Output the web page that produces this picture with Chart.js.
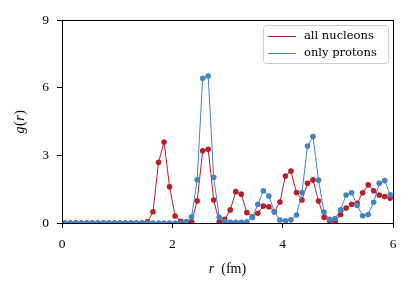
<!DOCTYPE html>
<html>
<head>
<meta charset="utf-8">
<script src="https://cdn.jsdelivr.net/npm/chart.js@4"></script>
<style>
  html, body { margin: 0; padding: 0; background: #fff; }
  canvas { display: block; }
</style>
</head>
<body>
<canvas id="gofr" width="414" height="292"></canvas>
<script>
// bin centres in fm
const rValues = [0.05, 0.15, 0.25, 0.35, 0.45, 0.55, 0.65, 0.75, 0.85, 0.95,
    1.05, 1.15, 1.25, 1.35, 1.45, 1.55, 1.65, 1.75, 1.85, 1.95,
    2.05, 2.15, 2.25, 2.35, 2.45, 2.55, 2.65, 2.75, 2.85, 2.95,
    3.05, 3.15, 3.25, 3.35, 3.45, 3.55, 3.65, 3.75, 3.85, 3.95,
    4.05, 4.15, 4.25, 4.35, 4.45, 4.55, 4.65, 4.75, 4.85, 4.95,
    5.05, 5.15, 5.25, 5.35, 5.45, 5.55, 5.65, 5.75, 5.85, 5.95];

const allNucleons = [0, 0, 0, 0, 0, 0, 0, 0, 0, 0,
    0, 0, 0, 0, 0, 0.05, 0.50, 2.69, 3.59, 1.61,
    0.31, 0.08, 0.04, 0.05, 0.98, 3.20, 3.27, 1.02, 0.04, 0.16,
    0.58, 1.39, 1.28, 0.46, 0.28, 0.43, 0.75, 0.72, 0.50, 0.93,
    2.08, 2.30, 1.35, 1.02, 1.76, 1.91, 0.97, 0.25, 0.10, 0.08,
    0.38, 0.66, 0.83, 0.87, 1.34, 1.69, 1.43, 1.24, 1.17, 1.10];

const onlyProtons = [0, 0, 0, 0, 0, 0, 0, 0, 0, 0,
    0, 0, 0, 0, 0, 0, 0, 0, 0, 0,
    0, 0, 0.05, 0.28, 1.92, 6.42, 6.52, 2.03, 0.25, 0.06,
    0.03, 0.03, 0.03, 0.05, 0.24, 0.83, 1.43, 1.20, 0.50, 0.13,
    0.10, 0.14, 0.35, 1.35, 3.41, 3.83, 1.90, 0.49, 0.16, 0.20,
    0.58, 1.24, 1.34, 0.78, 0.32, 0.38, 0.92, 1.76, 1.88, 1.25];

const xTicks = [0, 2, 4, 6];
const yTicks = [0, 3, 6, 9];
const seriesNames = ['all nucleons', 'only protons'];

const red = '#b2202a';
const blue = '#4682bf';
const serif = '"Liberation Serif", "DejaVu Serif", serif';

function toPoints(ys) {
    const pts = [];
    for (var i = 0; i < rValues.length; i++) {
        pts.push({x: rValues[i], y: ys[i]});
    }
    return pts;
}

// frame, axis titles and the matplotlib style legend
const decorations = {
    id: 'decorations',
    afterDraw(chart) {
        const ctx = chart.ctx;
        const a = chart.chartArea;
        ctx.save();
        ctx.strokeStyle = '#000';
        ctx.lineWidth = 1;
        ctx.strokeRect(Math.round(a.left) + 0.5, Math.round(a.top) + 0.5,
            Math.round(a.right - a.left), Math.round(a.bottom - a.top));

        // x title: italic r then (fm)
        ctx.fillStyle = '#000';
        ctx.textBaseline = 'middle';
        ctx.textAlign = 'left';
        const it = 'italic 14px ' + serif;
        const up = '14px ' + serif;
        ctx.font = it;
        const wr = ctx.measureText('r').width;
        ctx.font = up;
        const wf = ctx.measureText('  (fm)').width;
        let x0 = (a.left + a.right) / 2 - (wr + wf) / 2;
        ctx.font = it;
        ctx.fillText('r', x0, 269);
        ctx.font = up;
        ctx.fillText('  (fm)', x0 + wr, 269);

        // y title: g(r) rotated
        ctx.save();
        ctx.translate(20, (a.top + a.bottom) / 2);
        ctx.rotate(-Math.PI / 2);
        const parts = [['g', it], ['(', up], ['r', it], [')', up]];
        let total = 0;
        parts.forEach(p => { ctx.font = p[1]; total += ctx.measureText(p[0]).width + 0.5; });
        let px = -total / 2;
        parts.forEach(p => {
            ctx.font = p[1];
            ctx.fillText(p[0], px, 0);
            px += ctx.measureText(p[0]).width + 0.5;
        });
        ctx.restore();

        // legend
        const lx = 263, ly = 25, lw = 125, lh = 38;
        ctx.beginPath();
        ctx.roundRect(lx + 0.5, ly + 0.5, lw, lh, 3);
        ctx.fillStyle = 'rgba(255,255,255,0.8)';
        ctx.fill();
        ctx.strokeStyle = '#cccccc';
        ctx.lineWidth = 1;
        ctx.stroke();
        const colors = [red, blue];
        ctx.font = '11.5px "DejaVu Serif", serif';
        ctx.textBaseline = 'middle';
        for (var i = 0; i < seriesNames.length; i++) {
            const yy = 36 + i * 17;
            ctx.beginPath();
            ctx.moveTo(268, yy + 0.5);
            ctx.lineTo(296, yy + 0.5);
            ctx.strokeStyle = colors[i];
            ctx.lineWidth = 1;
            ctx.stroke();
            ctx.fillStyle = '#000';
            ctx.fillText(seriesNames[i], 304, yy);
        }
        ctx.restore();
    }
};

new Chart(document.getElementById('gofr').getContext('2d'), {
    type: 'line',
    data: {
        datasets: [{
            label: seriesNames[0],
            data: toPoints(allNucleons),
            borderColor: red,
            backgroundColor: red,
            pointBackgroundColor: red,
            pointBorderColor: red,
            borderWidth: 1,
            pointRadius: 2.8,
            pointBorderWidth: 0,
            tension: 0,
            clip: 0,
            order: 1
        }, {
            label: seriesNames[1],
            data: toPoints(onlyProtons),
            borderColor: blue,
            backgroundColor: blue,
            pointBackgroundColor: blue,
            pointBorderColor: blue,
            borderWidth: 1,
            pointRadius: 2.8,
            pointBorderWidth: 0,
            tension: 0,
            clip: 0,
            order: 0
        }]
    },
    options: {
        responsive: false,
        animation: false,
        devicePixelRatio: 1,
        layout: { padding: { top: 20, right: 21, left: 0, bottom: 0 } },
        plugins: {
            legend: { display: false },
            tooltip: { enabled: false }
        },
        scales: {
            x: {
                type: 'linear',
                min: 0,
                max: 6,
                afterBuildTicks: s => { s.ticks = xTicks.map(v => ({value: v})); },
                afterFit: s => { s.height = 69; },
                grid: { drawOnChartArea: false, drawTicks: true, tickLength: 5, color: '#000', lineWidth: 1 },
                border: { display: true, color: '#000', width: 1 },
                ticks: { color: '#000', font: { family: serif, size: 13.5 }, padding: 8, maxRotation: 0 }
            },
            y: {
                min: 0,
                max: 9,
                afterBuildTicks: s => { s.ticks = yTicks.map(v => ({value: v})); },
                afterFit: s => { s.width = 62; },
                grid: { drawOnChartArea: false, drawTicks: true, tickLength: 5, color: '#000', lineWidth: 1 },
                border: { display: true, color: '#000', width: 1 },
                ticks: { color: '#000', font: { family: serif, size: 13.5 }, padding: 8 }
            }
        }
    },
    plugins: [decorations]
});
</script>
</body>
</html>
